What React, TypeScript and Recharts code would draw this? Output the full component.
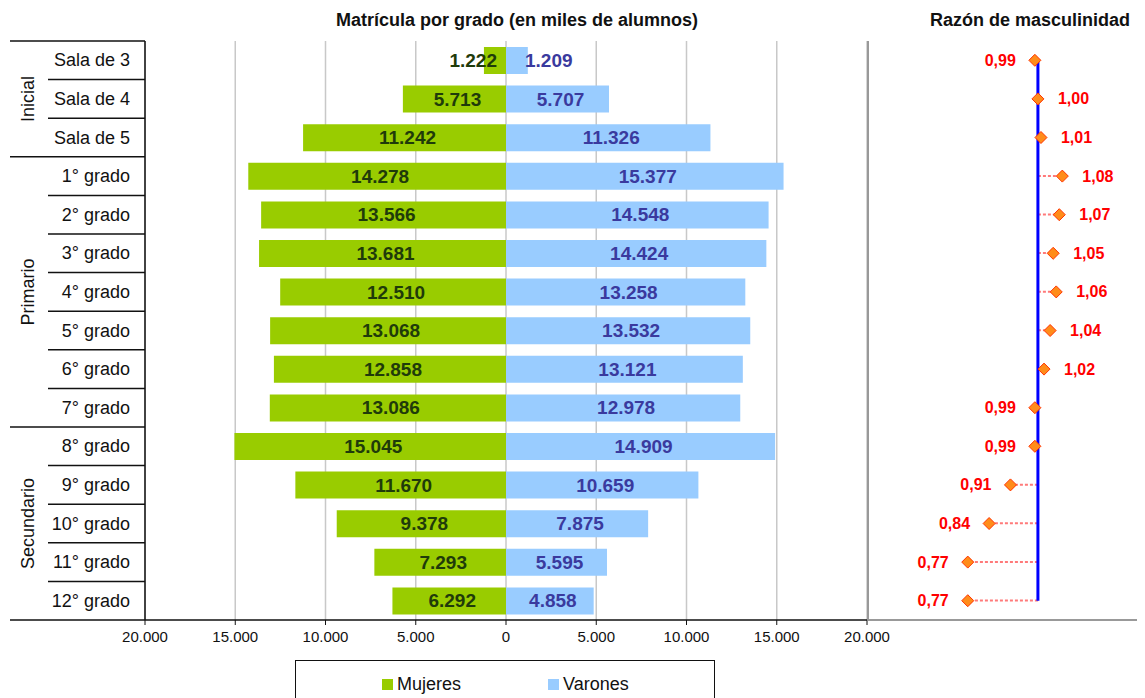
import React from "react";
import {
  ComposedChart,
  Bar,
  Line,
  XAxis,
  YAxis,
  CartesianGrid,
  LabelList,
  ReferenceLine,
} from "recharts";

// ── Datos ───────────────────────────────────────────────────────

const grados = [
  "Sala de 3", "Sala de 4", "Sala de 5",
  "1° grado", "2° grado", "3° grado", "4° grado", "5° grado", "6° grado", "7° grado",
  "8° grado", "9° grado", "10° grado", "11° grado", "12° grado",
];
const niveles = [
  "Inicial", "Inicial", "Inicial",
  "Primario", "Primario", "Primario", "Primario", "Primario", "Primario", "Primario",
  "Secundario", "Secundario", "Secundario", "Secundario", "Secundario",
];
const mujeres = [1222, 5713, 11242, 14278, 13566, 13681, 12510, 13068, 12858, 13086, 15045, 11670, 9378, 7293, 6292];
const varones = [1209, 5707, 11326, 15377, 14548, 14424, 13258, 13532, 13121, 12978, 14909, 10659, 7875, 5595, 4858];
const razon = [0.99, 1.0, 1.01, 1.08, 1.07, 1.05, 1.06, 1.04, 1.02, 0.99, 0.99, 0.91, 0.84, 0.77, 0.77];
const ticksMatricula = [-20000, -15000, -10000, -5000, 0, 5000, 10000, 15000, 20000];
const series = [
  { key: "mujeres", name: "Mujeres", color: "#99cc00", text: "#1f3b0a" },
  { key: "varones", name: "Varones", color: "#99ccff", text: "#3a3a9e" },
];

const data = grados.map((g, i) => ({
  grado: g,
  mujeres: -mujeres[i],
  varones: varones[i],
  razon: razon[i],
  tramo: [1, razon[i]],
}));

// ── Layout ──────────────────────────────────────────────────────

const FONT = '"Liberation Sans", Arial, sans-serif';
const H = 690;
const TOP = 33;
const BOTTOM = 48;
const XAXIS_H = 30;
const YAXIS_W = 137;
const ROW = (H - TOP - BOTTOM - XAXIS_H) / grados.length;
const W1 = 900;
const W2 = 278;
const RAZON_DOMAIN = [0.443, 1.351];

const fmtMiles = (v: number) =>
  String(Math.abs(v)).replace(/\B(?=(\d{3})+(?!\d))/g, ".");
const fmtRazon = (v: number) => v.toFixed(2).replace(".", ",");

// ── Eje de grados con niveles ───────────────────────────────────

function GradoTick(props: any) {
  const { y, payload } = props;
  const i = grados.indexOf(payload.value);
  const half = ROW / 2;
  const finGrupo = i === grados.length - 1 || niveles[i + 1] !== niveles[i];
  const miembros = grados.map((_, j) => j).filter((j) => niveles[j] === niveles[i]);
  const medio = miembros[Math.floor((miembros.length - 1) / 2)];
  const yGrupo = y + (miembros.length % 2 === 0 ? half : 0);

  return (
    <g>
      {i === 0 && (
        <line x1={2} x2={YAXIS_W} y1={y - half} y2={y - half} stroke="#111" strokeWidth={1.5} />
      )}
      <line
        x1={finGrupo ? 2 : 40}
        x2={YAXIS_W}
        y1={y + half}
        y2={y + half}
        stroke="#111"
        strokeWidth={1.5}
      />
      <text
        x={122}
        y={y}
        textAnchor="end"
        dominantBaseline="central"
        fontFamily={FONT}
        fontSize={18}
        fill="#111"
      >
        {payload.value}
      </text>
      {i === medio && (
        <text
          x={20}
          y={yGrupo}
          transform={`rotate(-90 20 ${yGrupo})`}
          textAnchor="middle"
          dominantBaseline="central"
          fontFamily={FONT}
          fontSize={18}
          fill="#111"
        >
          {niveles[i]}
        </text>
      )}
    </g>
  );
}

function renderValor(p: any, lado: "izq" | "der", color: string) {
  const vb = p.viewBox || p;
  const { x, y, width, height } = vb;
  const left = Math.min(x, x + width);
  const right = Math.max(x, x + width);
  let tx = (left + right) / 2 + 3;
  let anchor: "middle" | "end" | "start" = "middle";
  if (right - left < 60) {
    if (lado === "izq") {
      tx = right - 9;
      anchor = "end";
    } else {
      tx = left + 19;
      anchor = "start";
    }
  }
  return (
    <text
      x={tx}
      y={y + height / 2}
      textAnchor={anchor}
      dominantBaseline="central"
      fontFamily={FONT}
      fontWeight="bold"
      fontSize={19}
      fill={color}
    >
      {fmtMiles(p.value)}
    </text>
  );
}

// ── Razón de masculinidad ───────────────────────────────────────

function Rombo(props: any) {
  const { cx, cy } = props;
  if (cx == null || cy == null) return null;
  const r = 6;
  return (
    <path
      d={`M${cx},${cy - r}L${cx + r},${cy}L${cx},${cy + r}L${cx - r},${cy}Z`}
      fill="#ff8c1a"
      stroke="#ff3300"
      strokeWidth={1}
    />
  );
}

function renderRazon(p: any) {
  const x = p.x ?? p.viewBox?.x;
  const y = p.y ?? p.viewBox?.y;
  const v = Number(p.value);
  const derecha = v >= 1;
  return (
    <text
      x={derecha ? x + 20 : x - 19}
      y={y}
      textAnchor={derecha ? "start" : "end"}
      dominantBaseline="central"
      fontFamily={FONT}
      fontWeight="bold"
      fontSize={16}
      fill="#ff0000"
    >
      {fmtRazon(v)}
    </text>
  );
}

function Tramo(props: any) {
  const { x, y, width, height } = props;
  if (x == null || !width) return null;
  const cy = y + height / 2;
  return (
    <line
      x1={x}
      x2={x + width}
      y1={cy}
      y2={cy}
      stroke="#ff7a7a"
      strokeWidth={2}
      strokeDasharray="3 2"
    />
  );
}

const tituloStyle: React.CSSProperties = {
  position: "absolute",
  top: 3,
  lineHeight: "18px",
  fontSize: 18,
  fontWeight: "bold",
  textAlign: "center",
  whiteSpace: "nowrap",
  color: "#111",
};

export default function App() {
  return (
    <div
      style={{
        position: "relative",
        width: 1137,
        height: H,
        overflow: "hidden",
        fontFamily: FONT,
      }}
    >
      <div style={{ ...tituloStyle, left: 309, width: 400 }}>
        Matrícula por grado (en miles de alumnos)
      </div>
      <div style={{ ...tituloStyle, left: 902, width: 240 }}>Razón de masculinidad</div>

      <div style={{ position: "absolute", left: 0, top: 0 }}>
        <ComposedChart
          width={W1}
          height={H}
          data={data}
          layout="vertical"
          stackOffset="sign"
          barSize={27}
          margin={{ top: TOP, right: W1 - 859, bottom: BOTTOM, left: 0 }}
        >
          <CartesianGrid horizontal={false} stroke="#c8c8c8" strokeWidth={1.5} />
          <XAxis
            type="number"
            domain={[-20000, 20000]}
            ticks={ticksMatricula}
            interval={0}
            tickFormatter={fmtMiles}
            axisLine={{ stroke: "#111", strokeWidth: 1.5 }}
            tickLine={{ stroke: "#111" }}
            tickSize={5}
            tickMargin={6}
            height={XAXIS_H}
            tick={{ fontSize: 15, fill: "#111", fontFamily: FONT }}
          />
          <XAxis
            xAxisId="top"
            orientation="top"
            type="number"
            domain={[-20000, 20000]}
            tick={false}
            tickLine={false}
            axisLine={{ stroke: "#999", strokeWidth: 2 }}
            height={0}
          />
          <YAxis
            type="category"
            dataKey="grado"
            width={YAXIS_W}
            interval={0}
            tickLine={false}
            axisLine={{ stroke: "#111", strokeWidth: 1.5 }}
            tick={<GradoTick />}
          />
          {series.map((s, k) => (
            <Bar
              key={s.key}
              dataKey={s.key}
              name={s.name}
              stackId="matricula"
              fill={s.color}
              isAnimationActive={false}
            >
              <LabelList
                dataKey={s.key}
                content={(p: any) => renderValor(p, k === 0 ? "izq" : "der", s.text)}
              />
            </Bar>
          ))}
        </ComposedChart>
      </div>

      <div style={{ position: "absolute", left: 859, top: 0 }}>
        <ComposedChart
          width={W2}
          height={H}
          data={data}
          layout="vertical"
          barCategoryGap="30%"
          margin={{ top: TOP, right: 0, bottom: BOTTOM, left: 0 }}
        >
          <XAxis
            type="number"
            domain={RAZON_DOMAIN}
            allowDataOverflow
            tick={false}
            tickLine={false}
            axisLine={{ stroke: "#999", strokeWidth: 2 }}
            height={XAXIS_H}
          />
          <XAxis
            xAxisId="top"
            orientation="top"
            type="number"
            domain={RAZON_DOMAIN}
            allowDataOverflow
            tick={false}
            tickLine={false}
            axisLine={{ stroke: "#999", strokeWidth: 2 }}
            height={0}
          />
          <YAxis
            type="category"
            dataKey="grado"
            width={1}
            tick={false}
            tickLine={false}
            axisLine={{ stroke: "#999", strokeWidth: 2 }}
          />
          <Bar dataKey="tramo" shape={<Tramo />} isAnimationActive={false} />
          <ReferenceLine
            segment={[
              { x: 1, y: grados[0] },
              { x: 1, y: grados[grados.length - 1] },
            ]}
            stroke="#0000ff"
            strokeWidth={3}
          />
          <Line
            dataKey="razon"
            stroke="none"
            dot={<Rombo />}
            activeDot={false}
            isAnimationActive={false}
          >
            <LabelList dataKey="razon" content={renderRazon} />
          </Line>
        </ComposedChart>
      </div>

      <div
        style={{
          position: "absolute",
          left: 287,
          top: 652,
          width: 420,
          height: 60,
          border: "1.5px solid #111",
          boxSizing: "border-box",
          display: "flex",
          paddingLeft: 86,
          paddingTop: 14,
        }}
      >
        {series.map((s) => (
          <div key={s.key} style={{ width: 171, display: "flex", alignItems: "center", height: 18 }}>
            <span style={{ width: 11, height: 11, background: s.color, marginRight: 4, display: "inline-block" }} />
            <span style={{ fontSize: 18, color: "#111" }}>{s.name}</span>
          </div>
        ))}
      </div>
    </div>
  );
}
